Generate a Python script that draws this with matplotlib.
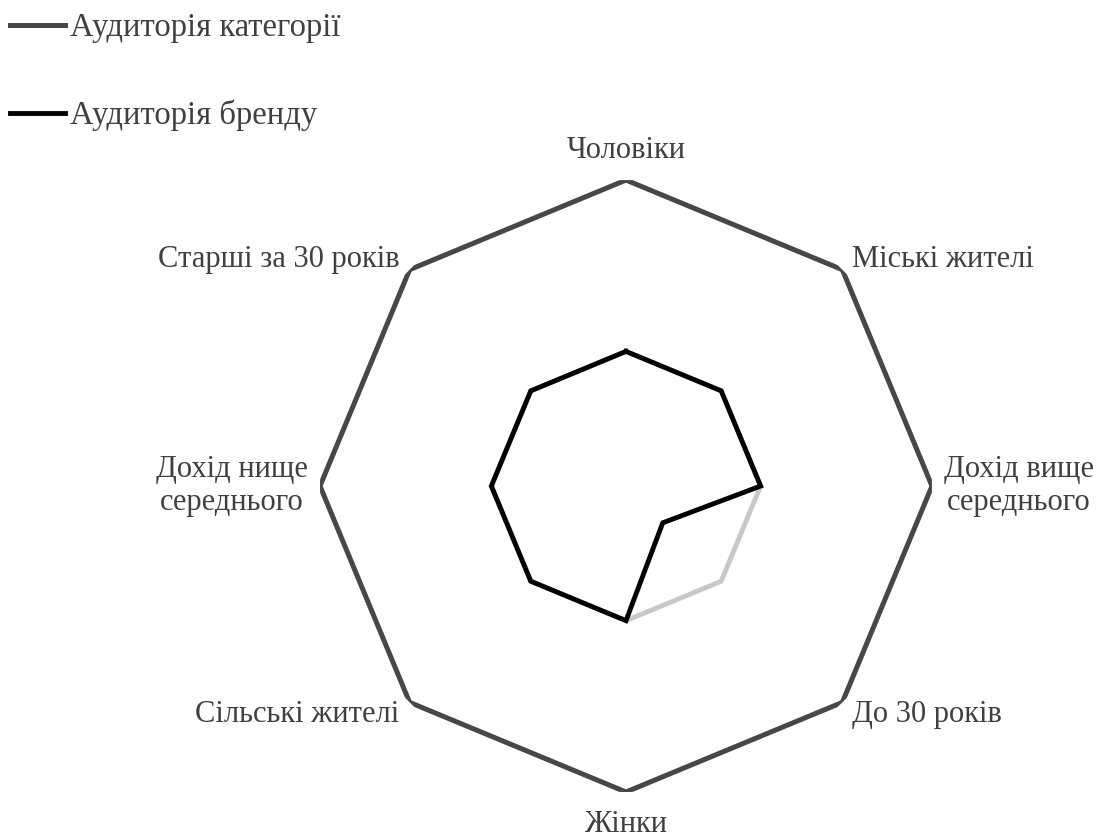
import numpy as np
import matplotlib.pyplot as plt

categories = [
    "Чоловіки",
    "Міські жителі",
    "Дохід вище\nсереднього",
    "До 30 років",
    "Жінки",
    "Сільські жителі",
    "Дохід нище\nсереднього",
    "Старші за 30 років",
]
category_audience = [100, 100, 100, 100, 100, 100, 100, 100]
brand_audience = [44, 44, 44, 17, 44, 44, 44, 44]
brand_base = [44, 44, 44, 44, 44, 44, 44, 44]

plt.rcParams["font.family"] = ["Liberation Serif", "DejaVu Serif"]
text_color = "#404040"

n = len(categories)
theta = np.linspace(0, 2 * np.pi, n, endpoint=False)
theta_c = np.append(theta, theta[0])


def closed(vals):
    return np.append(vals, vals[0])


fig = plt.figure(figsize=(11.05, 8.39), dpi=100)
ax = fig.add_axes([0.2896, 0.056, 0.5538, 0.7294], projection="polar")
ax.set_theta_offset(np.pi / 2)
ax.set_theta_direction(-1)

ax.plot(theta_c, closed(brand_base), color="#c8c8c8", linewidth=3.5,
        solid_joinstyle="miter", zorder=2)
ax.plot(theta_c, closed(category_audience), color="#474747", linewidth=3.6,
        solid_joinstyle="miter", label="Аудиторія категорії", zorder=3)
ax.plot(theta_c, closed(brand_audience), color="black", linewidth=3.5,
        solid_joinstyle="miter", label="Аудиторія бренду", zorder=4)

ax.set_ylim(0, 100)
ax.set_xticks([])
ax.set_yticks([])
ax.grid(False)
ax.spines["polar"].set_visible(False)

# label placement around the outer ring (offsets in pixels)
for t, lab in zip(theta, categories):
    s = np.sin(t)
    c = np.cos(t)
    if abs(s) < 0.01:
        ha = "center"
        dx = 0
    elif s > 0:
        ha = "left"
        dx = 10
    else:
        ha = "right"
        dx = -10
    if abs(s) > 0.99:
        dx = 12 if s > 0 else -12
    if c > 0.9:
        va, dy = "bottom", 15
    elif c < -0.9:
        va, dy = "top", -18
    elif c > 0.1:
        va, dy = "center", 10
    elif c < -0.1:
        va, dy = "center", -12
    else:
        va, dy = "center", 0
    ax.annotate(lab, xy=(t, 100), xytext=(dx, dy), textcoords="offset pixels",
                ha=ha, va=va, fontsize=22, color=text_color,
                multialignment="center", annotation_clip=False)

fig.legend(loc="upper left", bbox_to_anchor=(0.009, 0.985), frameon=False,
           fontsize=23.5, handlelength=1.69, handletextpad=0.15,
           labelspacing=1.74, borderpad=0, borderaxespad=0,
           labelcolor=text_color)

fig.savefig("out.png", dpi=100)
